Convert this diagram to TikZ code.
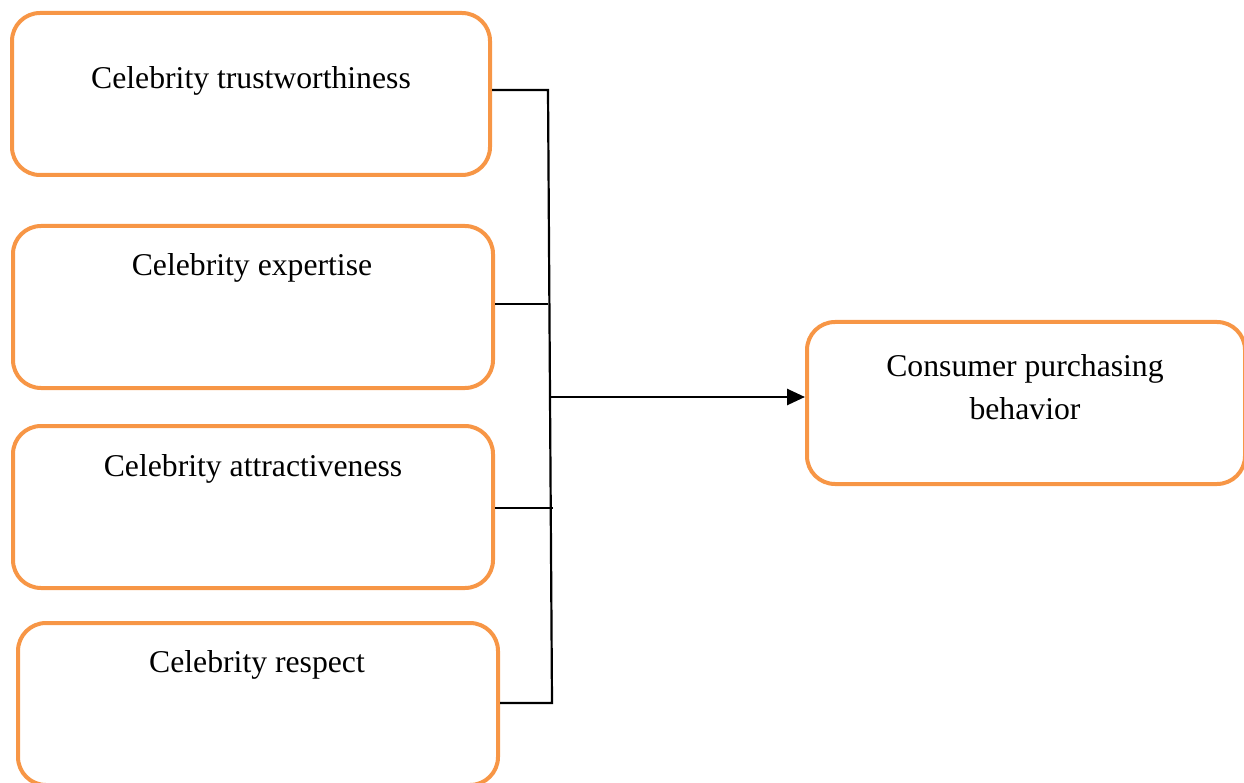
\documentclass[tikz,border=0pt]{standalone}
\usepackage{fontspec}
\setmainfont{Liberation Serif}
\usetikzlibrary{arrows.meta}
\definecolor{boxorange}{HTML}{F79646}
\tikzset{
  factorbox/.style={draw=boxorange, line width=4pt, rounded corners=28pt, minimum height=162pt, inner sep=0pt},
  boxtext/.style={anchor=base, font=\fontsize{31.7}{42}\selectfont, inner sep=0pt, align=center},
  link/.style={draw=black, line width=2.2pt},
}
\begin{document}
\begin{tikzpicture}[x=1pt, y=-1pt]
\useasboundingbox (0,0) rectangle (1244,783);
\node[factorbox, minimum width=478pt] (b1) at (251,94) {};
\node[factorbox, minimum width=480pt] (b2) at (253,307) {};
\node[factorbox, minimum width=480pt] (b3) at (253,507) {};
\node[factorbox, minimum width=480pt] (b4) at (258,704) {};
\node[factorbox, minimum width=438pt] (b5) at (1026,403) {};
\node[boxtext] (l1) at (251,89) {Celebrity trustworthiness};
\node[boxtext] (l2) at (252,276) {Celebrity expertise};
\node[boxtext] (l3) at (253,476) {Celebrity attractiveness};
\node[boxtext] (l4) at (257,672) {Celebrity respect};
\node[boxtext] (l5) at (1025,376) {Consumer purchasing};
\node[boxtext] (l6) at (1025,419) {behavior};
\coordinate (t1) at (548,90);
\coordinate (t2) at (548,304);
\coordinate (t3) at (553,508);
\coordinate (t4) at (552,703);
\coordinate (j) at (550,397);
\draw[link] (b1.east |- t1) -- (t1) -- (t4) -- (b4.east |- t4);
\draw[link] (b2.east |- t2) -- (t2);
\draw[link] (b3.east |- t3) -- (t3);
\draw[link, line width=2.6pt, -{Triangle[length=18pt, width=16pt]}] (j) -- (b5.west |- j);
\end{tikzpicture}
\end{document}
